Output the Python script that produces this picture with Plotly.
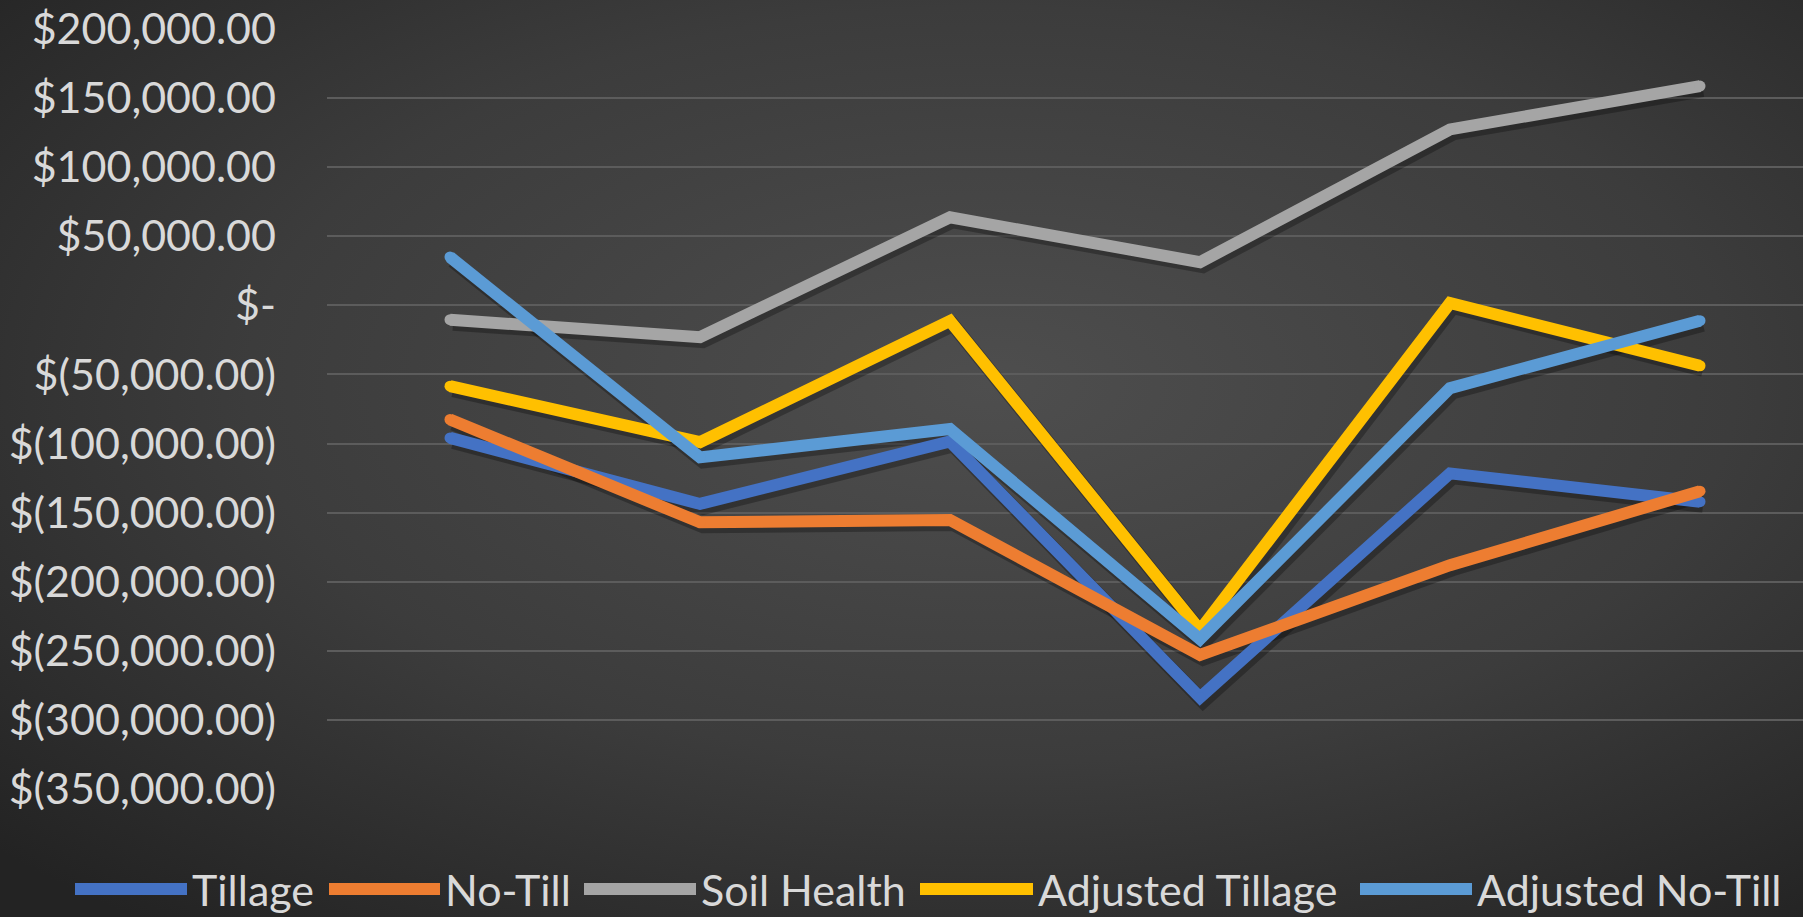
import plotly.graph_objects as go
import urllib.parse

# ---- data ----
categories = ["1", "2", "3", "4", "5", "6"]
tillage = [-95900, -143700, -98500, -283750, -121600, -142100]
no_till = [-82600, -157000, -155300, -253000, -188000, -134500]
soil_health = [-10400, -23000, 63750, 31250, 127300, 158700]
adjusted_tillage = [-58500, -99000, -11250, -235000, 1700, -43700]
adjusted_no_till = [35000, -110000, -89500, -241500, -59900, -11100]

series_names = ["Tillage", "No-Till", "Soil Health", "Adjusted Tillage", "Adjusted No-Till"]
series_values = [tillage, no_till, soil_health, adjusted_tillage, adjusted_no_till]
series_colors = ["#4472C4", "#ED7D31", "#A5A5A5", "#FFC000", "#5B9BD5"]

tick_vals = [200000, 150000, 100000, 50000, 0, -50000, -100000, -150000,
             -200000, -250000, -300000, -350000]
tick_text = ["$200,000.00", "$150,000.00", "$100,000.00", "$50,000.00", "$-",
             "$(50,000.00)", "$(100,000.00)", "$(150,000.00)", "$(200,000.00)",
             "$(250,000.00)", "$(300,000.00)", "$(350,000.00)"]

# ---- layout geometry ----
W, H = 1803, 917
ML, MR, MT, MB = 327, 0, 29, 128
PW, PH = W - ML - MR, H - MT - MB
FONT = "Lato, 'Open Sans', sans-serif"
TXT = "#d9d9d9"
Y0, Y1 = -350000, 200000
x0 = (ML - 450) / 250.0
x1 = x0 + PW / 250.0
ypp = (Y1 - Y0) / PH  # data units per pixel
LW = 12

fig = go.Figure()
xs = list(range(len(categories)))

# invisible anchor trace so the base subplot (grid + tick labels) is drawn
fig.add_trace(go.Scatter(x=xs, y=series_values[0], mode="lines", opacity=0,
                         showlegend=False, hoverinfo="skip"))

# soft drop shadows on an overlay axis shifted a few pixels down/right
for vals in series_values:
    fig.add_trace(go.Scatter(
        x=xs, y=vals, mode="lines",
        line=dict(color="rgba(0,0,0,0.28)", width=LW + 2),
        xaxis="x2", yaxis="y2", showlegend=False, hoverinfo="skip"))

# main lines (markers of the same colour give Excel-like round joins/caps)
for name, vals, col in zip(series_names, series_values, series_colors):
    fig.add_trace(go.Scatter(
        x=xs, y=vals, mode="lines+markers", name=name,
        line=dict(color=col, width=LW),
        marker=dict(color=col, size=LW - 1, line=dict(width=0)),
        xaxis="x3", yaxis="y3", showlegend=False))

svg = ("<svg xmlns='http://www.w3.org/2000/svg' width='1803' height='917' preserveAspectRatio='none'>"
       "<defs><radialGradient id='g' cx='0.55' cy='0.42' r='0.75'>"
       "<stop offset='0' stop-color='#4e4e4e'/>"
       "<stop offset='0.55' stop-color='#3c3c3c'/>"
       "<stop offset='1' stop-color='#232323'/>"
       "</radialGradient></defs>"
       "<rect width='1803' height='917' fill='url(#g)'/></svg>")
img_src = "data:image/svg+xml;charset=utf-8," + urllib.parse.quote(svg)

fig.update_layout(
    width=W, height=H,
    margin=dict(l=ML, r=MR, t=MT, b=MB, pad=0),
    paper_bgcolor="#333333",
    plot_bgcolor="rgba(0,0,0,0)",
    showlegend=False,
    font=dict(family=FONT, color=TXT),
    images=[dict(source=img_src, xref="paper", yref="paper",
                 x=-ML / PW, y=1 + MT / PH, sizex=W / PW, sizey=H / PH,
                 xanchor="left", yanchor="top", sizing="stretch", layer="below")],
    xaxis=dict(range=[x0, x1], showgrid=False, zeroline=False, showticklabels=False,
               showline=False, ticks=""),
    yaxis=dict(range=[Y0, Y1], tickvals=tick_vals, ticktext=tick_text,
               showgrid=True, gridcolor="#5c5c5c", gridwidth=2, zeroline=False,
               showline=False, ticks="", ticklabelstandoff=50,
               tickfont=dict(family=FONT, size=43, color=TXT)),
    xaxis2=dict(range=[x0 - 3 / 250.0, x1 - 3 / 250.0], overlaying="x", anchor="y2",
                visible=False),
    yaxis2=dict(range=[Y0 + 4 * ypp, Y1 + 4 * ypp], overlaying="y", anchor="x2",
                visible=False),
    xaxis3=dict(range=[x0, x1], overlaying="x", anchor="y3", visible=False),
    yaxis3=dict(range=[Y0, Y1], overlaying="y", anchor="x3", visible=False),
)

# ---- custom legend (long Excel-style keys) ----
leg_y = -(889 - (MT + PH)) / PH
key_x = [(75, 187), (329, 440), (584, 696), (920, 1033), (1360, 1472)]
for (a, b), name, col in zip(key_x, series_names, series_colors):
    fig.add_shape(type="line", xref="paper", yref="paper",
                  x0=(a - ML) / PW, x1=(b - ML) / PW, y0=leg_y, y1=leg_y,
                  line=dict(color=col, width=12))
    fig.add_annotation(text=name, xref="paper", yref="paper",
                       x=(b + 3 - ML) / PW, y=leg_y, xanchor="left", yanchor="middle",
                       showarrow=False, font=dict(family=FONT, size=43, color=TXT))

fig.write_html("out.html", config={"displayModeBar": False},
               post_script="document.body.style.margin='0';"
                           "document.body.style.overflow='hidden';")
